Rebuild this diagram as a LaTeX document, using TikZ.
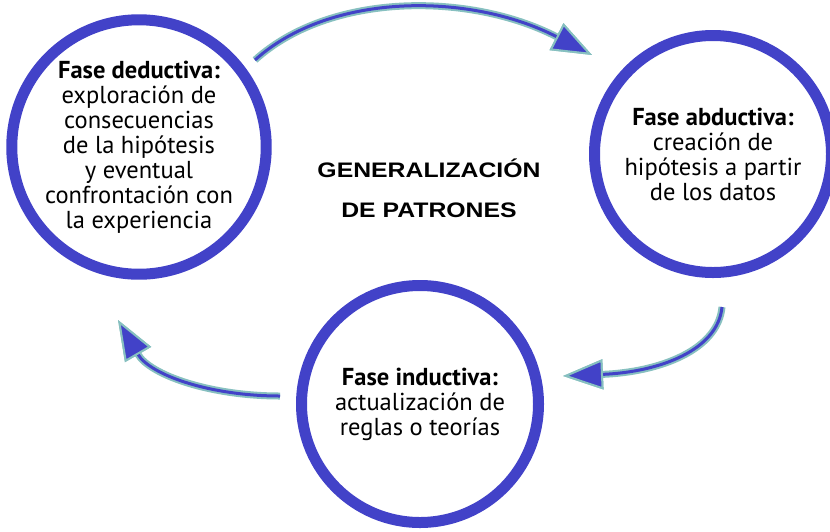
\documentclass[tikz,border=0pt]{standalone}
\usepackage{fontspec}
\setmainfont{PT Sans}
\newfontfamily\titfont[FakeStretch=1.18]{Liberation Sans}
\usetikzlibrary{arrows.meta}
\definecolor{azul}{RGB}{66,66,200}
\definecolor{halo}{RGB}{135,192,192}

\begin{document}
\begin{tikzpicture}[x=1pt, y=-1pt,
  fase/.style = {circle, draw=azul, line width=11pt, fill=white, minimum size=237pt, inner sep=0pt, align=center, font=\fontsize{24.5}{25}\selectfont},
  flecha/.style = {draw=azul, line width=3pt, -{Triangle[length=40pt, width=30pt, color=halo, fill=azul, line width=2pt]},
    preaction={draw=halo, line width=7pt, -{Triangle[length=40pt, width=30pt, color=halo, fill=halo, line width=2pt]}}}]
\useasboundingbox (0,0) rectangle (830,531);
\node[fase] (ded) at (139,147) {\textbf{Fase deductiva:}\\ exploración de\\ consecuencias\\ de la hipótesis\\ y eventual\\ confrontación con\\ la experiencia};
\node[fase] (abd) at (713,154) {\textbf{Fase abductiva:}\\ creación de\\ hipótesis a partir\\ de los datos};
\node[fase] (ind) at (420,404) {\textbf{Fase inductiva:}\\ actualización de\\ reglas o teorías};
\node[font=\titfont\bfseries\fontsize{21}{40}\selectfont, align=center] (gen) at (429,188) {GENERALIZACIÓN\\ DE PATRONES};
\coordinate (d1) at (255,60);
\coordinate (a1) at (592,55);
\coordinate (a2) at (722,307);
\coordinate (i1) at (563,376);
\coordinate (i2) at (280,396);
\coordinate (d2) at (118,320);
\draw[flecha] (d1) .. controls (330,-8) and (470,-8) .. (a1);
\draw[flecha] (a2) .. controls (718,350) and (660,372) .. (i1);
\draw[flecha] (i2) .. controls (210,396) and (150,375) .. (d2);
\end{tikzpicture}
\end{document}
